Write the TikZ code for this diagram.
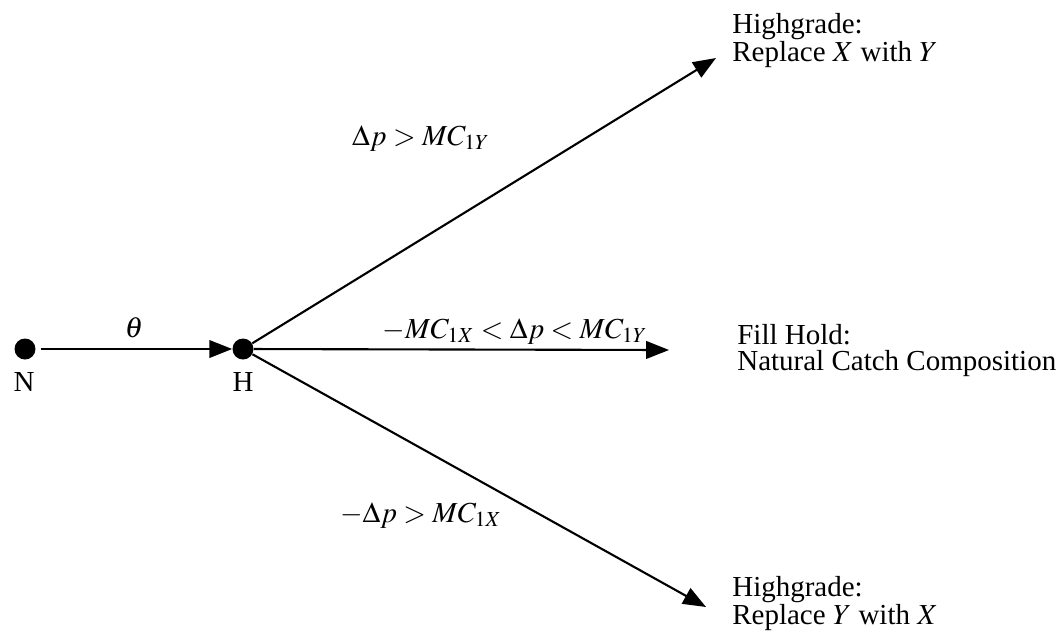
\documentclass[tikz,border=0pt]{standalone}
\usepackage{mathptmx}
\usepackage[no-math]{fontspec}
\setmainfont{Liberation Serif}
\usetikzlibrary{arrows.meta}

\begin{document}
\begin{tikzpicture}[
  x=0.02cm, y=-0.02cm,
  font=\fontsize{16.5}{15}\selectfont,
  dot/.style={circle, fill, inner sep=0pt, minimum size=0.42cm},
  txt/.style={anchor=north west, align=left, inner sep=0pt},
  lbl/.style={inner sep=0pt},
  ar/.style={-{Triangle[length=13pt,width=10pt]}, line width=1.2pt}]

\useasboundingbox (0,0) rectangle (1057,643);

% decision points
\node[dot] (n) at (25,349) {};
\node[dot] (h) at (243,349) {};
\node[lbl, anchor=base] (nlab) at (24,391) {N};
\node[lbl, anchor=base] (hlab) at (243,391) {H};

% free ends of the three choices
\coordinate (tipy) at (716,58);
\coordinate (tipm) at (669,350);
\coordinate (tipx) at (706,607);

\draw[ar, shorten <=1mm] (n) -- (h);
\draw[ar] (h) -- (tipy);
\draw[ar] (h) -- (tipm);
\draw[ar] (h) -- (tipx);

% conditions
\node[lbl, anchor=base] (theta) at (134,337) {$\theta$};
\node[lbl, anchor=base east] (condy) at (490,145) {$\Delta p > MC_{1Y}$};
\node[lbl, anchor=base] (condm) at (515,338) {$-MC_{1X} < \Delta p < MC_{1Y}$};
\node[lbl, anchor=base east] (condx) at (502,522) {$-\Delta p > MC_{1X}$};

% outcomes
\node[txt] (outy) at (732,13) {Highgrade:\\Replace $X$ with $Y$};
\node[txt] (outm) at (737,324) {Fill Hold:\\Natural Catch Composition};
\node[txt] (outx) at (732,576) {Highgrade:\\Replace $Y$ with $X$};
\end{tikzpicture}
\end{document}
